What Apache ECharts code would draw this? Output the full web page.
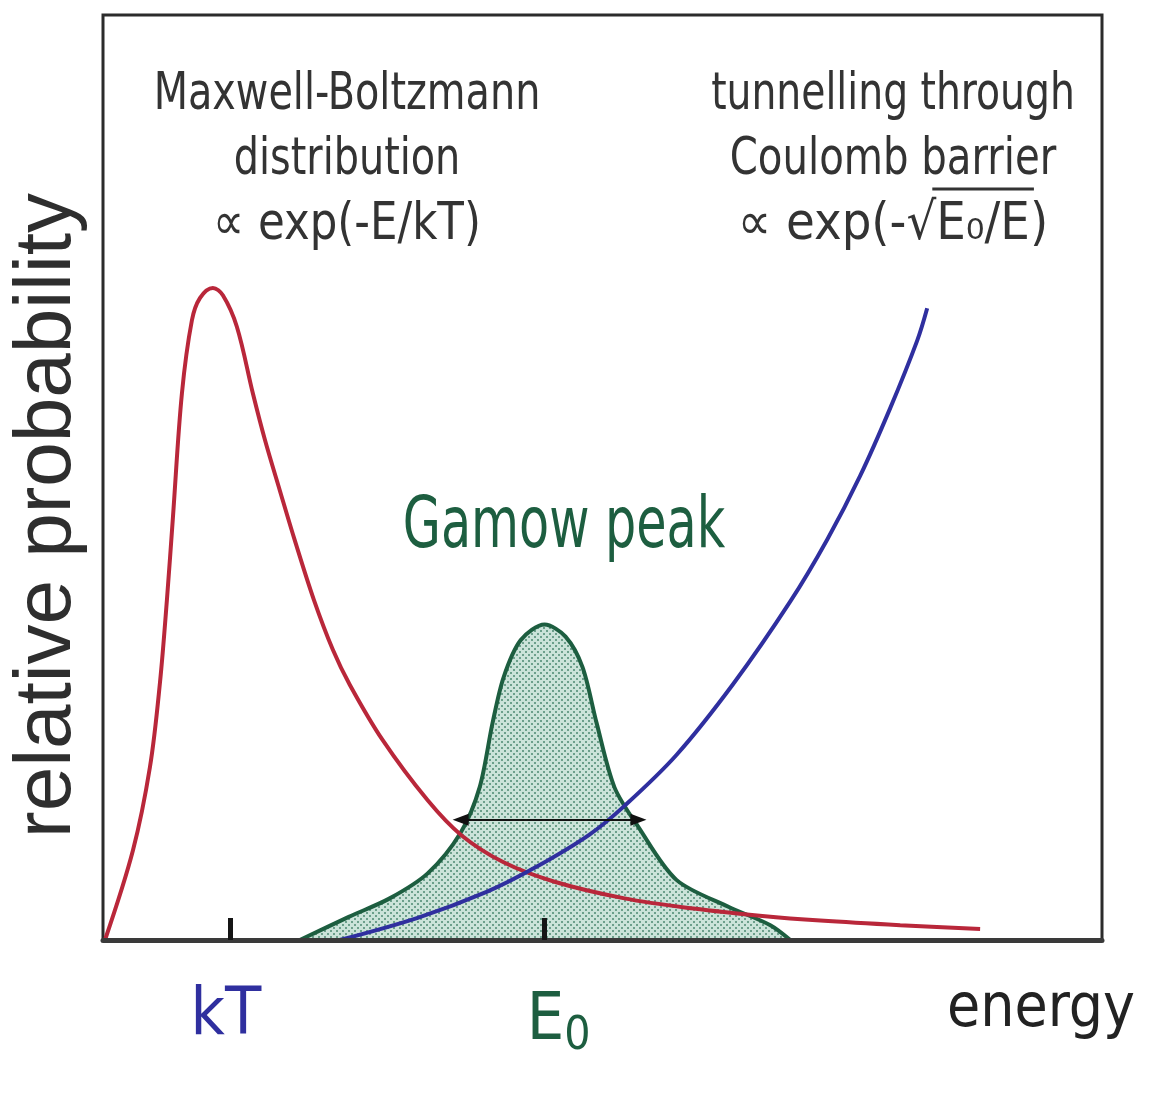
<!DOCTYPE html>
<html>
<head>
<meta charset="utf-8">
<script src="https://cdn.jsdelivr.net/npm/echarts@6/dist/echarts.min.js"></script>
<style>
  html, body { margin: 0; padding: 0; background: #ffffff; }
  #chart { width: 1151px; height: 1099px; }
</style>
</head>
<body>
<div id="chart"></div>
<script>
// Energy runs 0–100 and probability 0–100, both in arbitrary (relative) units.

// Maxwell-Boltzmann distribution
const mbEnergy = [0.2, 3.0, 4.7, 5.7, 6.4, 7.0, 7.9, 8.9, 9.7, 11.0, 12.0, 13.4, 15.0, 16.2, 17.7, 19.2, 21.1, 23.0, 24.7, 28.0, 32.5, 35.9, 40.1, 45.2, 52.2, 59.1, 66.0, 71.8, 79.8, 87.8];
const mbProb   = [0.0, 9.7, 18.7, 27.8, 36.8, 45.7, 59.1, 67.0, 69.4, 70.5, 69.7, 66.3, 59.1, 54.1, 48.6, 43.2, 36.8, 31.4, 27.6, 21.6, 15.1, 11.3, 8.4, 6.3, 4.5, 3.4, 2.6, 2.1, 1.6, 1.2];

// Gamow peak (product of the two factors)
const gamowEnergy = [19.7, 24.6, 28.7, 32.5, 35.8, 37.7, 39.0, 40.1, 41.8, 44.2, 46.3, 48.0, 49.4, 51.2, 53.6, 57.4, 62.6, 66.8, 68.8];
const gamowProb   = [0.0, 2.5, 4.5, 7.2, 11.6, 16.5, 23.5, 28.4, 32.4, 34.1, 32.8, 29.5, 23.5, 16.5, 12.2, 6.5, 3.6, 1.6, 0.0];

// Tunnelling probability through the Coulomb barrier
const tunnelEnergy = [23.7, 31.5, 38.4, 43.2, 48.7, 52.2, 57.4, 63.1, 68.8, 72.5, 75.8, 78.8, 81.5, 82.5];
const tunnelProb   = [0.0, 2.4, 5.2, 7.8, 11.4, 14.5, 20.0, 27.7, 36.6, 43.3, 50.2, 57.5, 64.8, 68.3];

// Marked energies on the axis
const tickEnergies = [12.7, 44.2];
const tickLabels = ['kT', 'E0'];

// Width of the Gamow window (double arrow)
const windowEnergies = [35.8, 53.6];
const windowLevel = 13.0;

const NARROW = '"Liberation Sans Narrow", "DejaVu Sans Condensed", "Liberation Sans", sans-serif';
const RED = '#b9273a';
const BLUE = '#2f2f9f';
const GREEN = '#1d5e40';
const INK = '#333333';

function pairs(xs, ys) { return xs.map((x, i) => [x, ys[i]]); }

// Stippled fill for the Gamow window
function stipple() {
  const c = document.createElement('canvas');
  c.width = 6; c.height = 6;
  const g = c.getContext('2d');
  g.fillStyle = '#cbe3d9';
  g.fillRect(0, 0, 6, 6);
  g.fillStyle = '#6c9f8b';
  g.fillRect(0, 0, 2, 2);
  g.fillRect(3, 3, 2, 2);
  return c;
}

function measure(text, size) {
  const ctx = document.createElement('canvas').getContext('2d');
  ctx.font = size + 'px ' + NARROW;
  return ctx.measureText(text).width;
}

// Annotation text
const noteSize = 52;
const rightCx = 893;
const formula = '\u221D exp(-\u221AE\u2080/E)';
const formulaW = measure(formula, noteSize);
const barStart = rightCx - formulaW / 2 + measure('\u221D exp(-\u221A', noteSize) - 4;
const barEnd = rightCx - formulaW / 2 + measure('\u221D exp(-\u221AE\u2080/E', noteSize) + 4;

function note(text, x, y, color, size, sx) {
  return {
    type: 'text', x: x, y: y, scaleX: sx, silent: true,
    style: { text: text, fill: color, font: size + 'px ' + NARROW, textAlign: 'center', textVerticalAlign: 'middle' }
  };
}

const chart = echarts.init(document.getElementById('chart'));
chart.setOption({
  backgroundColor: '#ffffff',
  animation: false,
  grid: { left: 103, right: 49, top: 15, bottom: 159, show: true, borderColor: '#2b2b2b', borderWidth: 3, outerBoundsMode: 'none' },
  xAxis: {
    type: 'value', min: 0, max: 100, z: 10,
    name: 'energy', nameLocation: 'end', nameGap: 33,
    nameTextStyle: { fontFamily: NARROW, fontSize: 60, color: '#222', align: 'right', verticalAlign: 'top', padding: [40, 0, 0, 0] },
    axisLine: { show: true, lineStyle: { color: '#3a3a3a', width: 5 } },
    axisTick: { show: true, inside: true, length: 22, customValues: tickEnergies, lineStyle: { color: '#151515', width: 5 } },
    axisLabel: {
      show: true, customValues: tickEnergies, margin: 44,
      formatter: function (v) {
        const t = tickLabels[tickEnergies.indexOf(v)];
        return t === 'kT' ? '{kt|kT}' : '{e|E}{sub|0}';
      },
      rich: {
        kt: { fontFamily: NARROW, fontSize: 66, color: BLUE, padding: [0, 8, 0, 0] },
        e: { fontFamily: NARROW, fontSize: 66, color: GREEN, padding: [0, 0, 0, 28] },
        sub: { fontFamily: NARROW, fontSize: 46, color: GREEN, padding: [30, 0, 0, 0] }
      }
    },
    splitLine: { show: false }
  },
  yAxis: {
    type: 'value', min: 0, max: 100,
    name: 'relative probability', nameLocation: 'middle', nameRotate: 90, nameGap: 15,
    nameTextStyle: { fontFamily: '"Liberation Sans", sans-serif', fontSize: 80, color: '#2e2e2e', padding: [0, 76, 0, 0] },
    axisLine: { show: false }, axisTick: { show: false }, axisLabel: { show: false }, splitLine: { show: false }
  },
  series: [
    {
      name: 'Gamow peak', type: 'line', data: pairs(gamowEnergy, gamowProb),
      smooth: 0.3, showSymbol: false, z: 2,
      lineStyle: { color: GREEN, width: 4 },
      areaStyle: { color: { image: stipple(), repeat: 'repeat' }, opacity: 1 }
    },
    {
      name: 'Maxwell-Boltzmann', type: 'line', data: pairs(mbEnergy, mbProb),
      smooth: 0.35, showSymbol: false, z: 3,
      lineStyle: { color: RED, width: 4 }
    },
    {
      name: 'tunnelling', type: 'line', data: pairs(tunnelEnergy, tunnelProb),
      smooth: 0.35, showSymbol: false, z: 4,
      lineStyle: { color: BLUE, width: 4 },
      markLine: {
        silent: true, symbol: ['triangle', 'triangle'], symbolSize: [12, 16],
        lineStyle: { color: '#111', width: 2, type: 'solid' },
        label: { show: false },
        data: [[{ coord: [windowEnergies[0], windowLevel] }, { coord: [windowEnergies[1], windowLevel] }]]
      }
    }
  ],
  graphic: [
    note('Maxwell-Boltzmann', 347, 95, INK, noteSize, 0.85),
    note('distribution', 347, 160, INK, noteSize, 0.85),
    note('\u221D exp(-E/kT)', 347, 225, INK, noteSize, 0.93),
    note('tunnelling through', rightCx, 95, INK, noteSize, 0.84),
    note('Coulomb barrier', rightCx, 160, INK, noteSize, 0.86),
    note(formula, rightCx, 225, INK, noteSize, 1),
    { type: 'line', silent: true, shape: { x1: barStart, y1: 189, x2: barEnd, y2: 189 }, style: { stroke: INK, lineWidth: 3 } },
    note('Gamow peak', 564, 528, GREEN, 72, 0.76)
  ]
});
</script>
</body>
</html>
